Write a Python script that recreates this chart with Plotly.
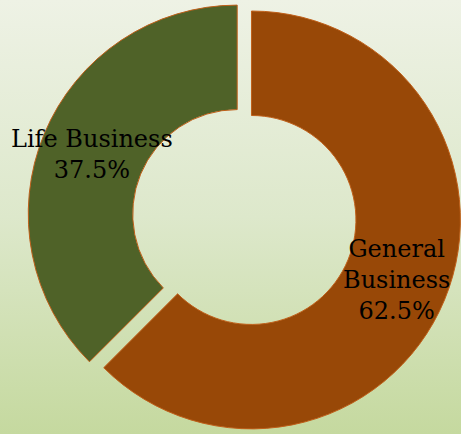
import math
import base64
import plotly.graph_objects as go

# Data
labels = ["General Business", "Life Business"]
values = [62.5, 37.5]
label_text = ["General<br>Business", "Life Business"]
colors = ["#984807", "#4F6228"]

W, H = 461, 434
dom_x = [0.06, 1.0]
dom_y = [0.0, 1.0]
pull = 0.037
hole = 0.5

fig = go.Figure(go.Pie(
    labels=labels,
    values=values,
    sort=False,
    direction="clockwise",
    rotation=0,
    hole=hole,
    pull=[pull] * len(values),
    marker=dict(colors=colors, line=dict(color="#C0601A", width=1)),
    textinfo="none",
    hoverinfo="label+percent",
    showlegend=False,
    domain=dict(x=dom_x, y=dom_y),
))

# label positions derived from the pie geometry and the values
box_w = W * (dom_x[1] - dom_x[0])
box_h = H * (dom_y[1] - dom_y[0])
r = min(box_w, box_h) / 2 / (1 + pull)
cx = W * (dom_x[0] + dom_x[1]) / 2
cy = H * (1 - dom_y[0]) - box_h / 2
total = sum(values)
cum = 0.0
annotations = []
for txt, v in zip(label_text, values):
    mid = (cum + v / 2) / total * 2 * math.pi
    cum += v
    rho = pull * r + r * (1 + hole) / 2
    px = cx + rho * math.sin(mid)
    py = cy - rho * math.cos(mid)
    pct = v / total * 100
    annotations.append(dict(
        x=px / W, y=1 - py / H, xref="paper", yref="paper",
        text=f"{txt}<br>{pct:.1f}%", showarrow=False,
        xanchor="center", yanchor="middle", align="center",
        font=dict(family="DejaVu Serif", size=24, color="#000000"),
    ))

svg = (
    '<svg xmlns="http://www.w3.org/2000/svg" width="461" height="434" preserveAspectRatio="none">'
    '<defs><linearGradient id="g" x1="0" y1="0" x2="0" y2="1">'
    '<stop offset="0" stop-color="#EEF2E5"/>'
    '<stop offset="0.5" stop-color="#DDE8CB"/>'
    '<stop offset="1" stop-color="#C5D99F"/>'
    '</linearGradient></defs>'
    '<rect width="461" height="434" fill="url(#g)"/></svg>'
)
src = "data:image/svg+xml;base64," + base64.b64encode(svg.encode()).decode()

fig.update_layout(
    width=W, height=H,
    margin=dict(l=0, r=0, t=0, b=0),
    paper_bgcolor="#DDE8CB",
    plot_bgcolor="rgba(0,0,0,0)",
    annotations=annotations,
    images=[dict(source=src, xref="paper", yref="paper", x=0, y=1,
                 sizex=1, sizey=1, sizing="stretch", xanchor="left",
                 yanchor="top", layer="below")],
)

fig.write_html(
    "out.html",
    config={"displayModeBar": False},
    post_script="document.body.style.margin='0';document.body.style.overflow='hidden';",
)
